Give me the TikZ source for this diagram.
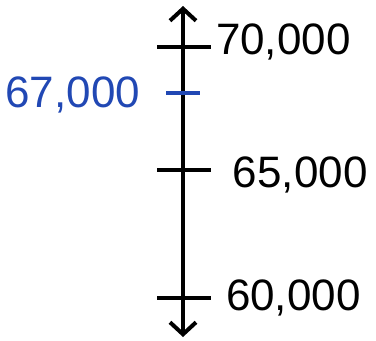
\documentclass[tikz,border=0pt]{standalone}
\usepackage{fontspec}
\setmainfont{Liberation Sans}
\usetikzlibrary{positioning,arrows.meta}
\definecolor{penblue}{RGB}{33,72,180}

\begin{document}
\begin{tikzpicture}[x=1pt,y=-1pt,>={Straight Barb[length=12pt,width=26pt]},
  line width=4pt,
  numlabel/.style={font=\fontsize{44}{44}\selectfont,inner sep=0pt,anchor=west}]
\useasboundingbox (0,0) rectangle (376,341);
\coordinate (top) at (183,6);
\coordinate (bot) at (183,337);
\draw[<->] (bot) -- (top);
% ticks
\coordinate (t70) at (183,47);
\coordinate (t67) at (183,93);
\coordinate (t65) at (183,170);
\coordinate (t60) at (183,298);
\draw (t70) ++(-26,0) -- ++(54,0);
\draw (t65) ++(-26,0) -- ++(54,0);
\draw (t60) ++(-26,0) -- ++(54,0);
\draw[penblue,line width=3.4pt] (t67) ++(-17,0) -- ++(34,0);
% labels
\node[numlabel] (l70) at (214,42) {70,000};
\node[numlabel] (l65) at (231,175) {65,000};
\node[numlabel] (l60) at (224,298) {60,000};
\node[numlabel,penblue,anchor=east] (l67) at (142,95) {67,000};
\end{tikzpicture}
\end{document}
